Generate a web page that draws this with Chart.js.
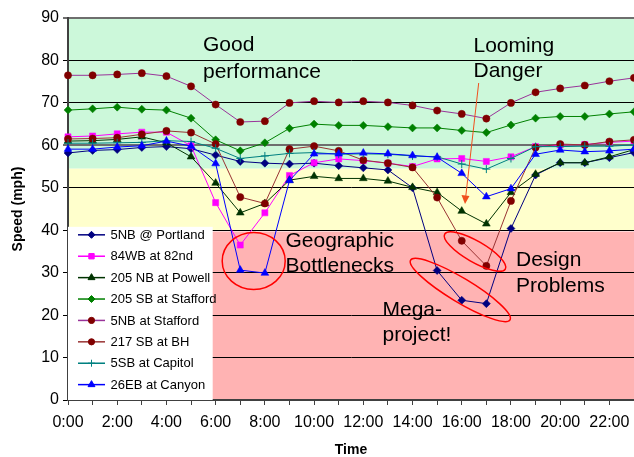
<!DOCTYPE html>
<html>
<head>
<meta charset="utf-8">
<script src="https://cdn.jsdelivr.net/npm/chart.js@4.4.1/dist/chart.umd.min.js"></script>
<style>
  html, body { margin: 0; padding: 0; background: #fff; }
  #wrap { width: 634px; height: 457px; }
</style>
</head>
<body>
<div id="wrap"><canvas id="speedChart" width="634" height="457"></canvas></div>
<script>
const hours = ['0:00', '1:00', '2:00', '3:00', '4:00', '5:00', '6:00', '7:00', '8:00', '9:00', '10:00', '11:00',
  '12:00', '13:00', '14:00', '15:00', '16:00', '17:00', '18:00', '19:00', '20:00', '21:00', '22:00', '23:00'];

const nb5Portland = [58.2, 58.8, 59.0, 59.5, 59.7, 59.2, 57.7, 56.2, 55.8, 55.6, 55.8, 55.2, 54.7, 54.2, 50.0, 30.5, 23.5, 22.7, 40.4, 53.0, 55.9, 55.9, 57.1, 58.3];
const wb84 = [62.0, 62.2, 62.7, 63.1, 63.1, 59.9, 46.5, 36.5, 44.1, 52.9, 55.9, 56.8, 56.4, 55.8, 55.0, 56.8, 56.9, 56.2, 57.3, 59.7, 60.1, 60.2, 60.7, 61.0];
const nb205Powell = [61.0, 61.1, 61.4, 62.0, 60.6, 57.3, 51.1, 44.1, 46.3, 51.8, 52.7, 52.2, 52.2, 51.6, 50.1, 48.9, 44.5, 41.5, 48.9, 53.2, 55.9, 55.9, 57.3, 59.0];
const sb205Stafford = [68.3, 68.6, 69.0, 68.5, 68.3, 66.4, 61.3, 58.7, 60.6, 64.0, 65.0, 64.7, 64.7, 64.4, 64.1, 64.1, 63.5, 63.0, 64.8, 66.4, 66.8, 66.8, 67.4, 67.9];
const nb5Stafford = [76.5, 76.5, 76.7, 77.0, 76.3, 73.9, 69.6, 65.5, 65.7, 70.0, 70.4, 70.1, 70.4, 70.1, 69.4, 68.2, 67.4, 66.3, 70.0, 72.5, 73.4, 74.1, 75.1, 75.9];
const sb217BH = [61.5, 61.6, 61.8, 62.6, 63.4, 63.0, 60.3, 47.8, 46.3, 59.1, 59.8, 58.7, 56.5, 55.8, 54.8, 47.7, 37.5, 31.6, 46.9, 59.5, 60.3, 60.1, 60.9, 61.3];
const sb5Capitol = [60.5, 60.5, 60.6, 60.7, 61.1, 60.9, 59.3, 56.9, 57.5, 58.1, 58.3, 57.9, 58.0, 57.9, 57.5, 57.3, 55.6, 54.4, 56.9, 59.7, 59.7, 59.8, 59.8, 60.1];
const eb26Canyon = [59.1, 59.1, 59.6, 59.9, 61.0, 59.8, 55.7, 30.6, 29.9, 51.7, 58.0, 58.0, 58.2, 58.0, 57.6, 57.2, 53.4, 47.9, 49.8, 57.9, 58.9, 58.5, 58.7, 59.1];

const FONT = "'Liberation Sans', Arial, sans-serif";

function series(label, data, lineColor, markColor, style, radius) {
  return {
    label: label,
    data: data,
    borderColor: lineColor,
    backgroundColor: markColor,
    borderWidth: 1,
    pointStyle: style,
    pointRadius: radius,
    pointBorderColor: markColor,
    pointBackgroundColor: markColor,
    pointBorderWidth: style === 'cross' ? 1 : 0.5,
    tension: 0
  };
}

const datasets = [
  series('5NB @ Portland', nb5Portland, '#000080', '#000080', 'rectRot', 4),
  series('84WB at 82nd', wb84, '#FF00FF', '#FF00FF', 'rect', 4.3),
  series('205 NB at Powell', nb205Powell, '#003300', '#003300', 'triangle', 4.5),
  series('205 SB at Stafford', sb205Stafford, '#008000', '#008000', 'rectRot', 4),
  series('5NB at Stafford', nb5Stafford, '#993399', '#800000', 'circle', 3.6),
  series('217 SB at BH', sb217BH, '#993333', '#800000', 'circle', 3.6),
  series('5SB at Capitol', sb5Capitol, '#008080', '#008080', 'cross', 4),
  series('26EB at Canyon', eb26Canyon, '#0000FF', '#0000FF', 'triangle', 4.5)
];
// later series sit on top, like the original
datasets.forEach(function(ds, i) { ds.order = datasets.length - i; });

// coloured zones behind the grid
const zonesPlugin = {
  id: 'zones',
  beforeDraw: function(chart) {
    const ctx = chart.ctx;
    const a = chart.chartArea;
    const y = chart.scales.y;
    ctx.save();
    ctx.fillStyle = '#CCF8DA';
    ctx.fillRect(a.left, y.getPixelForValue(90), a.right - a.left, y.getPixelForValue(54.5) - y.getPixelForValue(90));
    ctx.fillStyle = '#FFFFCC';
    ctx.fillRect(a.left, y.getPixelForValue(54.5), a.right - a.left, y.getPixelForValue(40) - y.getPixelForValue(54.5));
    ctx.fillStyle = '#FFB3B3';
    ctx.fillRect(a.left, y.getPixelForValue(39.7), a.right - a.left, y.getPixelForValue(0) - y.getPixelForValue(39.7));
    ctx.restore();
  }
};

// legend sits in a white box inside the plot
const legendBoxPlugin = {
  id: 'legendBox',
  beforeDatasetsDraw: function(chart) {
    const ctx = chart.ctx;
    const a = chart.chartArea;
    const y = chart.scales.y;
    const right = a.left + (a.right - a.left) * 5.88 / 23;
    const top = y.getPixelForValue(40.8);
    ctx.save();
    ctx.fillStyle = '#FFFFFF';
    ctx.fillRect(a.left, top, right - a.left, a.bottom - top);
    ctx.font = '13px ' + FONT;
    ctx.textBaseline = 'middle';
    ctx.textAlign = 'left';
    chart.data.datasets.forEach(function(ds, i) {
      const cy = top + 8 + i * 21.4;
      ctx.strokeStyle = ds.borderColor;
      ctx.lineWidth = 1.5;
      ctx.beginPath();
      ctx.moveTo(a.left + 10, cy);
      ctx.lineTo(a.left + 37, cy);
      ctx.stroke();
      ctx.fillStyle = ds.pointBackgroundColor;
      ctx.strokeStyle = ds.pointBorderColor;
      ctx.lineWidth = 1;
      Chart.helpers.drawPoint(ctx, { pointStyle: ds.pointStyle, radius: ds.pointRadius - 0.5, rotation: 0, borderWidth: 1 }, a.left + 23.5, cy);
      ctx.fillStyle = '#000';
      ctx.fillText(ds.label, a.left + 42.5, cy + 0.5);
    });
    ctx.restore();
  }
};

// callouts drawn over the lines
const notesPlugin = {
  id: 'notes',
  afterDatasetsDraw: function(chart) {
    const ctx = chart.ctx;
    ctx.save();
    ctx.fillStyle = '#000';
    ctx.font = '21px ' + FONT;
    ctx.textAlign = 'left';
    ctx.textBaseline = 'alphabetic';
    ctx.fillText('Good', 203, 51);
    ctx.fillText('performance', 203, 77.5);
    ctx.fillText('Looming', 473.5, 51.5);
    ctx.fillText('Danger', 473.5, 77);
    ctx.fillText('Geographic', 285.5, 247);
    ctx.fillText('Bottlenecks', 285.5, 272);
    ctx.fillText('Design', 516, 266);
    ctx.fillText('Problems', 516, 292);
    ctx.fillText('Mega-', 382.5, 315.5);
    ctx.fillText('project!', 382.5, 341);

    ctx.strokeStyle = '#FF0000';
    ctx.lineWidth = 1.5;
    ctx.beginPath();
    ctx.ellipse(253.7, 261, 31.5, 28.5, 0, 0, Math.PI * 2);
    ctx.stroke();
    ctx.beginPath();
    ctx.ellipse(475, 251.5, 35, 10.5, 30 * Math.PI / 180, 0, Math.PI * 2);
    ctx.stroke();
    ctx.beginPath();
    ctx.ellipse(460.3, 290, 58, 12, 31 * Math.PI / 180, 0, Math.PI * 2);
    ctx.stroke();

    // arrow to the 205 NB dip
    ctx.strokeStyle = '#F0501E';
    ctx.fillStyle = '#F0501E';
    ctx.lineWidth = 1;
    ctx.beginPath();
    ctx.moveTo(478.7, 83);
    ctx.lineTo(465.8, 196);
    ctx.stroke();
    ctx.beginPath();
    ctx.moveTo(465, 204);
    ctx.lineTo(461.5, 195);
    ctx.lineTo(469.5, 196);
    ctx.closePath();
    ctx.fill();
    ctx.restore();
  }
};

const ctx = document.getElementById('speedChart').getContext('2d');
new Chart(ctx, {
  type: 'line',
  data: { labels: hours, datasets: datasets },
  options: {
    responsive: false,
    animation: false,
    devicePixelRatio: 1,
    layout: { autoPadding: false, padding: { top: 18, right: 0, bottom: 0, left: 0 } },
    plugins: {
      legend: { display: false },
      tooltip: { enabled: false }
    },
    scales: {
      x: {
        type: 'category',
        offset: false,
        afterFit: function(scale) { scale.height = 57; scale.paddingLeft = 0; scale.paddingRight = 0; },
        border: { color: '#404040', width: 2 },
        grid: { drawOnChartArea: false, color: '#404040', tickLength: 5 },
        ticks: {
          autoSkip: false,
          maxRotation: 0,
          padding: 8,
          color: '#000',
          font: { family: FONT, size: 16 },
          callback: function(value, index) { return index % 2 === 0 ? hours[index] : ''; }
        },
        title: {
          display: true,
          text: 'Time',
          color: '#000',
          font: { family: FONT, size: 14, weight: 'bold', lineHeight: 1 },
          padding: { top: 0, bottom: 0 }
        }
      },
      y: {
        min: 0,
        max: 90,
        afterFit: function(scale) { scale.width = 68; scale.paddingTop = 0; scale.paddingBottom = 0; },
        border: { color: '#404040', width: 2 },
        grid: {
          color: function(c) { return c.tick && (c.tick.value === 60 || c.tick.value === 90) ? '#6E6E6E' : '#000'; },
          lineWidth: function(c) { return c.tick && (c.tick.value === 60 || c.tick.value === 90) ? 2 : 1; },
          tickLength: 5
        },
        ticks: {
          stepSize: 10,
          padding: 4,
          color: '#000',
          font: { family: FONT, size: 16 }
        },
        title: {
          display: true,
          text: 'Speed (mph)',
          color: '#000',
          font: { family: FONT, size: 14, weight: 'bold', lineHeight: 1 },
          padding: { top: 11, bottom: 0 }
        }
      }
    }
  },
  plugins: [zonesPlugin, legendBoxPlugin, notesPlugin]
});
</script>
</body>
</html>
